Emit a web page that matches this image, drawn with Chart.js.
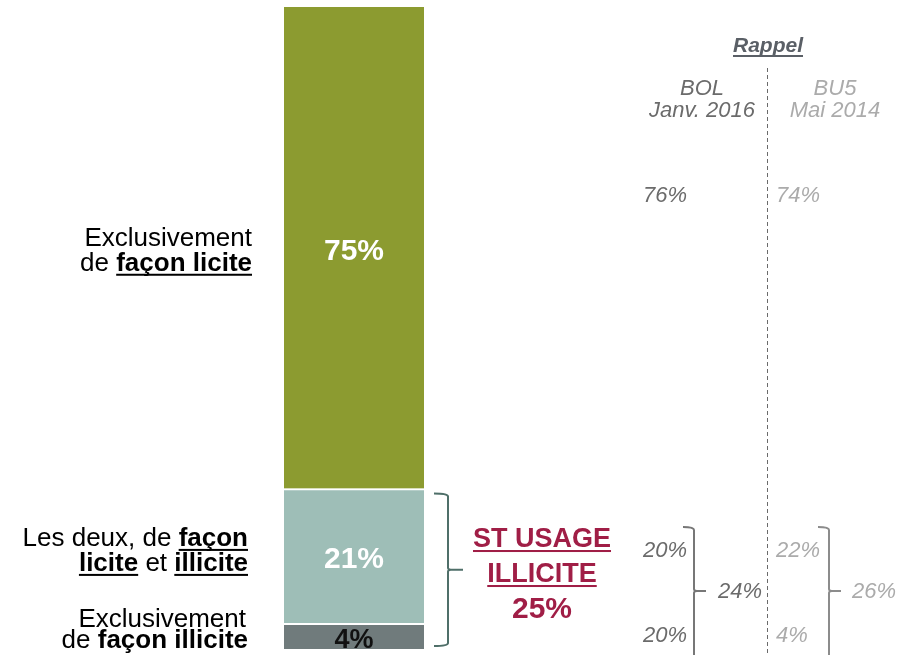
<!DOCTYPE html>
<html>
<head>
<meta charset="utf-8">
<script src="https://cdn.jsdelivr.net/npm/chart.js@4"></script>
<style>
  body { margin: 0; background: #fff; }
  #wrap { width: 910px; height: 655px; position: relative; }
</style>
</head>
<body>
<div id="wrap"><canvas id="chart"></canvas></div>
<script>
// valeurs
const categories = ['Total'];
const segNames = ['illicite', 'deux', 'licite'];
const segValues = [4, 21, 75];
const segColors = ['#707b7c', '#9ebeb7', '#8c9b30'];
const segTextColors = ['#111111', '#ffffff', '#ffffff'];
const stTotal = 25;

// rappel des vagues précédentes : [illicite, deux, licite]
const bolValues = [20, 20, 76];
const bolSubTotal = 24;
const bu5Values = [4, 22, 74];
const bu5SubTotal = 26;

const FONT = '"Liberation Sans", Arial, sans-serif';

function drawRuns(ctx, runs, x, y, align, size, color, italic) {
	let widths = runs.map((r) => {
		ctx.font = (italic ? 'italic ' : '') + (r.b ? 'bold ' : '') + size + 'px ' + FONT;
		return ctx.measureText(r.t).width;
	});
	let total = widths.reduce((a, b) => a + b, 0);
	let cx = align == 'right' ? x - total : (align == 'center' ? x - total / 2 : x);
	runs.forEach((r, i) => {
		ctx.font = (italic ? 'italic ' : '') + (r.b ? 'bold ' : '') + size + 'px ' + FONT;
		ctx.fillStyle = color;
		ctx.textAlign = 'left';
		ctx.textBaseline = 'alphabetic';
		ctx.fillText(r.t, cx, y);
		if (r.u) {
			ctx.fillRect(cx, y + Math.round(size * 0.12), widths[i], Math.max(2, size * 0.075));
		}
		cx += widths[i];
	});
}

function bracket(ctx, x, top, bottom, mid, hook, tip, color, width) {
	ctx.save();
	ctx.strokeStyle = color;
	ctx.lineWidth = width;
	ctx.beginPath();
	ctx.moveTo(x - hook, top);
	ctx.quadraticCurveTo(x, top, x, top + 3);
	ctx.lineTo(x, mid - 2);
	ctx.quadraticCurveTo(x, mid, x + 3, mid);
	ctx.lineTo(x + tip, mid);
	ctx.moveTo(x + 3, mid);
	ctx.quadraticCurveTo(x, mid, x, mid + 2);
	ctx.lineTo(x, bottom - 3);
	ctx.quadraticCurveTo(x, bottom, x - hook, bottom);
	ctx.stroke();
	ctx.restore();
}

const labelsPlugin = {
	id: 'labels',
	afterDatasetsDraw(chart) {
		const ctx = chart.ctx;
		const y = chart.scales.y;
		let bars = segValues.map((v, i) => chart.getDatasetMeta(i).data[0]);
		let centers = bars.map((b) => (b.y + b.base) / 2);
		let barRight = bars[0].x + bars[0].width / 2;
		let barLeft = bars[0].x - bars[0].width / 2;

		ctx.save();
		// valeurs dans la barre
		segValues.forEach((v, i) => {
			let size = i == 0 ? 27 : 30;
			let by = i == 0 ? bars[0].base - 1 : centers[i] + 12;
			drawRuns(ctx, [{t: v + '%', b: true}], bars[i].x, by, 'center', size, segTextColors[i], false);
		});

		// libellés à gauche
		let lx = barLeft - 32;
		drawRuns(ctx, [{t: 'Exclusivement'}], lx, centers[2] - 2, 'right', 26, '#000', false);
		drawRuns(ctx, [{t: 'de '}, {t: 'façon licite', b: true, u: true}], lx, centers[2] + 23, 'right', 26, '#000', false);
		drawRuns(ctx, [{t: 'Les deux, de '}, {t: 'façon', b: true, u: true}], lx - 4, centers[1] - 10, 'right', 26, '#000', false);
		drawRuns(ctx, [{t: 'licite', b: true, u: true}, {t: ' et '}, {t: 'illicite', b: true, u: true}], lx - 4, centers[1] + 15, 'right', 26, '#000', false);
		drawRuns(ctx, [{t: 'Exclusivement'}], lx - 6, centers[0] - 9, 'right', 26, '#000', false);
		drawRuns(ctx, [{t: 'de '}, {t: 'façon illicite', b: true}], lx - 4, centers[0] + 12, 'right', 26, '#000', false);

		// accolade sous-total
		let bTop = y.getPixelForValue(stTotal) + 5;
		let bBot = y.getPixelForValue(0) - 3;
		bracket(ctx, barRight + 24, bTop, bBot, (bTop + bBot) / 2, 14, 15, '#4f6f69', 2);
		let crimson = '#a01e46';
		drawRuns(ctx, [{t: 'ST USAGE', b: true, u: true}], 542, 547, 'center', 27, crimson, false);
		drawRuns(ctx, [{t: 'ILLICITE', b: true, u: true}], 542, 582, 'center', 27, crimson, false);
		drawRuns(ctx, [{t: stTotal + '%', b: true}], 542, 618, 'center', 30, crimson, false);

		// rappel
		let dark = '#6b6b6b', light = '#ababab';
		drawRuns(ctx, [{t: 'Rappel', b: true, u: true}], 768, 52, 'center', 21, '#5a5f66', true);
		ctx.strokeStyle = '#6a6a6a';
		ctx.lineWidth = 1;
		ctx.setLineDash([4, 3]);
		ctx.beginPath();
		ctx.moveTo(767.5, 68);
		ctx.lineTo(767.5, 655);
		ctx.stroke();
		ctx.setLineDash([]);

		drawRuns(ctx, [{t: 'BOL'}], 702, 95, 'center', 22, dark, true);
		drawRuns(ctx, [{t: 'Janv. 2016'}], 702, 117, 'center', 22, dark, true);
		drawRuns(ctx, [{t: 'BU5'}], 835, 95, 'center', 22, light, true);
		drawRuns(ctx, [{t: 'Mai 2014'}], 835, 117, 'center', 22, light, true);

		let rowY = [642, 557, 202];
		[2, 1, 0].forEach((i) => {
			drawRuns(ctx, [{t: bolValues[i] + '%'}], 643, rowY[i], 'left', 22, dark, true);
			drawRuns(ctx, [{t: bu5Values[i] + '%'}], 776, rowY[i], 'left', 22, light, true);
		});
		bracket(ctx, 694, 527, 662, 591, 11, 12, '#777777', 2);
		bracket(ctx, 829, 527, 662, 591, 11, 12, '#8c8c8c', 2);
		drawRuns(ctx, [{t: bolSubTotal + '%'}], 718, 598, 'left', 22, dark, true);
		drawRuns(ctx, [{t: bu5SubTotal + '%'}], 852, 598, 'left', 22, light, true);
		ctx.restore();
	}
};

new Chart(document.getElementById('chart'), {
	type: 'bar',
	data: {
		labels: categories,
		datasets: segValues.map((v, i) => ({
			label: segNames[i],
			data: [v],
			backgroundColor: segColors[i],
			borderColor: '#ffffff',
			borderWidth: i < 2 ? {top: 2, left: 0, right: 0, bottom: 0} : 0,
			borderSkipped: false,
			barPercentage: 1,
			categoryPercentage: 1
		}))
	},
	options: {
		responsive: true,
		maintainAspectRatio: false,
		animation: false,
		layout: {padding: {left: 284, right: 486, top: 7, bottom: 6}},
		plugins: {legend: {display: false}, tooltip: {enabled: false}},
		scales: {
			x: {stacked: true, display: false},
			y: {stacked: true, display: false, min: 0, max: 100}
		}
	},
	plugins: [labelsPlugin]
});
</script>
</body>
</html>
